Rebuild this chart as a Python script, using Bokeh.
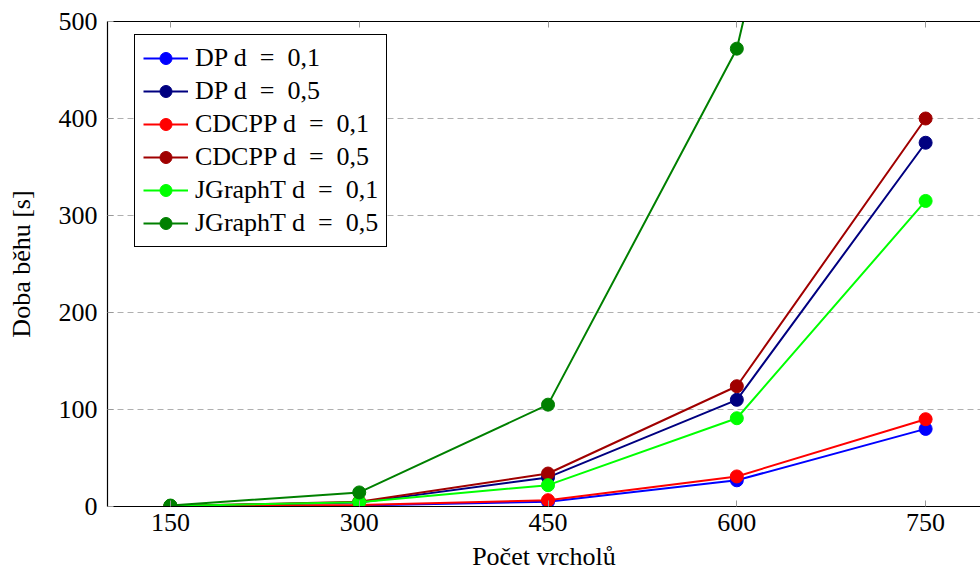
from bokeh.plotting import figure
from bokeh.models import Range1d, FixedTicker, LinearAxis, Legend
from bokeh.embed import file_html
from bokeh.resources import INLINE

# data
vertices = [150, 300, 450, 600, 750]
dp_01 = [0.2, 1.0, 5.0, 27.0, 80.0]
dp_05 = [0.3, 4.0, 30.0, 110.0, 375.0]
cdcpp_01 = [0.2, 1.5, 6.5, 31.0, 90.0]
cdcpp_05 = [0.4, 5.0, 34.0, 124.0, 400.0]
jgrapht_01 = [0.5, 4.5, 22.0, 91.0, 315.0]
jgrapht_05 = [1.0, 14.5, 105.0, 472.0, 1300.0]

series = [
    ("DP d\u2002=\u20020,1", dp_01, "#0000ff"),
    ("DP d\u2002=\u20020,5", dp_05, "#000080"),
    ("CDCPP d\u2002=\u20020,1", cdcpp_01, "#ff0000"),
    ("CDCPP d\u2002=\u20020,5", cdcpp_05, "#a00000"),
    ("JGraphT d\u2002=\u20020,1", jgrapht_01, "#00ff00"),
    ("JGraphT d\u2002=\u20020,5", jgrapht_05, "#008000"),
]
x_ticks = [150, 300, 450, 600, 750]
y_ticks = [0, 100, 200, 300, 400, 500]

FONT = "Liberation Serif"
FS = "26px"

p = figure(width=980, height=575, output_backend="svg", toolbar_location=None,
           x_range=Range1d(100, 793.6), y_range=Range1d(0, 500),
           min_border_left=107, min_border_right=0, min_border_top=21,
           min_border_bottom=69)
p.outline_line_color = None
p.background_fill_color = "white"
p.border_fill_color = "white"

items = []
for label, vals, color in series:
    r1 = p.line(vertices, vals, line_color=color, line_width=2)
    r2 = p.scatter(vertices, vals, size=13, fill_color=color, line_color=color)
    items.append((label, [r1, r2]))

legend = Legend(items=items, location=(27, 259))
legend.label_text_font = FONT
legend.label_text_font_size = FS
legend.label_text_color = "black"
legend.label_height = 30
legend.glyph_height = 30
legend.glyph_width = 45
legend.spacing = 3
legend.padding = 8
legend.margin = 0
legend.label_standoff = 7
legend.border_line_color = "black"
legend.border_line_width = 1
legend.border_line_alpha = 1.0
legend.background_fill_alpha = 1.0
p.add_layout(legend, "center")

for ax in [p.xaxis[0], p.yaxis[0]]:
    ax.axis_line_color = "black"
    ax.axis_line_width = 1.2
    ax.major_tick_in = 6
    ax.major_tick_out = 0
    ax.major_tick_line_color = "#999999"
    ax.minor_tick_line_color = None
    ax.major_label_text_font = FONT
    ax.major_label_text_font_size = FS
    ax.major_label_text_color = "black"
    ax.axis_label_text_font = FONT
    ax.axis_label_text_font_size = FS
    ax.axis_label_text_font_style = "normal"
    ax.axis_label_text_color = "black"

p.xaxis.ticker = FixedTicker(ticks=x_ticks)
p.yaxis.ticker = FixedTicker(ticks=y_ticks)
p.xaxis.axis_label = "Počet vrcholů"
p.yaxis.axis_label = "Doba běhu [s]"
p.xaxis.major_label_standoff = 7
p.yaxis.major_label_standoff = 10
p.xaxis.axis_label_standoff = 8
p.yaxis.axis_label_standoff = 20

top = LinearAxis(ticker=FixedTicker(ticks=x_ticks))
top.axis_line_color = "black"
top.axis_line_width = 1.2
top.major_tick_in = 6
top.major_tick_out = 0
top.major_tick_line_color = "#999999"
top.minor_tick_line_color = None
top.major_label_overrides = {t: "" for t in x_ticks}
top.major_label_text_font_size = "1px"
top.major_label_standoff = 0
p.add_layout(top, "above")

p.xgrid.grid_line_color = None
p.ygrid.grid_line_color = "#b0b0b0"
p.ygrid.grid_line_dash = "6 4"
p.ygrid.grid_line_width = 1

open("out.html", "w").write(file_html(p, INLINE))
